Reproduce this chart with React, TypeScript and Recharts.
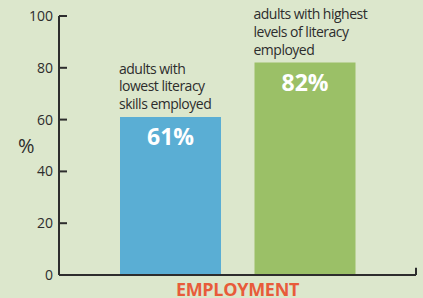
import { BarChart, Bar, XAxis, YAxis, LabelList, ReferenceLine, Cell } from 'recharts'

const categories = ['lowest', 'highest']
const employed = [61, 82]
const barNotes = [
  ['adults with', 'lowest literacy', 'skills employed'],
  ['adults with highest', 'levels of literacy', 'employed'],
]
const barColors = ['#5aaed4', '#9bc067']
const yTicks = [0, 20, 40, 60, 80, 100]

const data = categories.map((c, i) => ({ name: c, value: employed[i] }))

const ink = '#2d2d2d'
const font = '"Open Sans", sans-serif'

const YTick = (props: any) => {
  const { x, y, payload } = props
  return (
    <g>
      <text x={x} y={y} dy={5} textAnchor="end" fill={ink} fontSize={14} fontFamily={font}>
        {payload.value}
      </text>
      <line x1={x + 6} x2={x + 14} y1={y} y2={y} stroke={ink} strokeWidth={2} />
    </g>
  )
}

const NoteLabel = (props: any) => {
  const { x, y, index } = props
  const lines = barNotes[index]
  const lh = 17.6
  return (
    <text x={x - 1} fill={ink} fontSize={14} fontFamily={font} letterSpacing={-0.5}>
      {lines.map((l, i) => (
        <tspan key={i} x={x - 1} y={y - 8 - (lines.length - 1 - i) * lh}>
          {l}
        </tspan>
      ))}
    </text>
  )
}

export default function App() {
  return (
    <div
      style={{
        position: 'absolute',
        left: 0,
        top: 0,
        width: 423,
        height: 298,
        overflow: 'hidden',
        background: '#dce7cc',
      }}
    >
      <BarChart
        width={423}
        height={298}
        data={data}
        margin={{ top: 16, right: 7, bottom: 0, left: 0 }}
        barSize={101}
      >
        <XAxis
          dataKey="name"
          height={23}
          tick={false}
          tickLine={false}
          axisLine={{ stroke: ink, strokeWidth: 2 }}
          padding={{ left: 44, right: 44 }}
          label={{
            value: 'EMPLOYMENT',
            position: 'insideBottom',
            offset: 2,
            fill: '#e85b3a',
            fontSize: 18,
            fontWeight: 700,
            fontFamily: font,
            letterSpacing: -0.3,
          }}
        />
        <XAxis xAxisId="edge" type="number" domain={[0, 1]} hide />
        <YAxis
          domain={[0, 100]}
          ticks={yTicks}
          width={59}
          tickSize={0}
          tickMargin={6}
          tickLine={false}
          tick={<YTick />}
          axisLine={{ stroke: ink, strokeWidth: 2 }}
          label={{
            value: '%',
            position: 'insideLeft',
            offset: 18,
            fill: ink,
            fontSize: 20,
            fontFamily: font,
          }}
        />
        <ReferenceLine
          xAxisId="edge"
          segment={[{ x: 1, y: 0 }, { x: 1, y: 2.8 }]}
          stroke={ink}
          strokeWidth={2}
        />
        <Bar dataKey="value" isAnimationActive={false}>
          {data.map((d, i) => (
            <Cell key={d.name} fill={barColors[i]} />
          ))}
          <LabelList dataKey="value" content={<NoteLabel />} />
          <LabelList
            dataKey="value"
            position="insideTop"
            offset={12}
            formatter={(v: any) => `${v}%`}
            fill="#ffffff"
            fontSize={23}
            fontWeight={700}
            fontFamily={font}
          />
        </Bar>
      </BarChart>
    </div>
  )
}
